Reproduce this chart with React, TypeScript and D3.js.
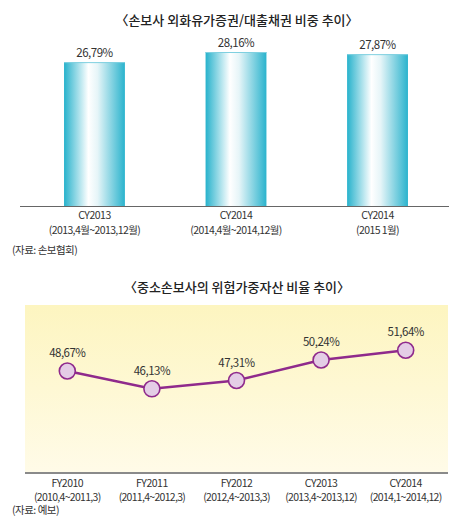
import React from 'react';
import * as d3 from 'd3';

// 상단 막대 차트
const barCats = ['CY2013', 'CY2014', 'CY2014'];
const barSubs = ['(2013,4월~2013,12월)', '(2014,4월~2014,12월)', '(2015 1월)'];
const barValues = [26.79, 28.16, 27.87];

// 하단 꺾은선 차트
const lineCats = ['FY2010', 'FY2011', 'FY2012', 'CY2013', 'CY2014'];
const lineSubs = ['(2010,4~2011,3)', '(2011,4~2012,3)', '(2012,4~2013,3)', '(2013,4~2013,12)', '(2014,1~2014,12)'];
const lineValues = [48.67, 46.13, 47.31, 50.24, 51.64];

const W = 470;
const H = 532;
const FONT = '"Noto Sans CJK KR", "Noto Sans", sans-serif';
const fmt = (v: number) => v.toFixed(2).replace('.', ',') + '%';

const App: React.FC = () => {
  // bar chart scales
  const barX = d3.scaleBand<number>()
    .domain(d3.range(barCats.length))
    .range([23, 449])
    .paddingInner(0.57)
    .paddingOuter(0.29);
  const barBase = 206;
  // axis doesn't start at zero in the original
  const barY = d3.scaleLinear().domain([7.3, 28.16]).range([barBase, 52]);

  // line chart scales
  const plot = { left: 25, right: 448, top: 305, bottom: 473 };
  const lineX = d3.scalePoint<number>()
    .domain(d3.range(lineCats.length))
    .range([plot.left, plot.right])
    .padding(0.5);
  const lineY = d3.scaleLinear().domain([34.1, 58.1]).range([plot.bottom, plot.top]);
  const path = d3.line<number>()
    .x((_, i) => lineX(i)!)
    .y(d => lineY(d))(lineValues);

  return (
    <svg width={W} height={H} style={{ display: 'block', margin: -8, background: '#fff' }} fontFamily={FONT}>
      <defs>
        <linearGradient id="barGrad" x1="0" x2="1" y1="0" y2="0">
          <stop offset="0" stopColor="#27b2cc" />
          <stop offset="0.4" stopColor="#ffffff" />
          <stop offset="0.55" stopColor="#e6f5f8" />
          <stop offset="1" stopColor="#2ab3cd" />
        </linearGradient>
        <linearGradient id="bgGrad" x1="0" x2="0" y1="0" y2="1">
          <stop offset="0" stopColor="#fdf5c0" />
          <stop offset="1" stopColor="#fffbe8" />
        </linearGradient>
      </defs>

      {/* 상단 제목 */}
      <text x={237} y={25} textAnchor="middle" fontSize={13} fontWeight={500} fill="#222">
        〈손보사 외화유가증권/대출채권 비중 추이〉
      </text>

      {barValues.map((v, i) => {
        const x = barX(i)!;
        const bw = barX.bandwidth();
        return (
          <g key={i}>
            <rect x={x} y={barY(v)} width={bw} height={barBase - barY(v)} fill="url(#barGrad)" />
            <line x1={x} x2={x + bw} y1={barY(v) + 0.5} y2={barY(v) + 0.5} stroke="#7fd0e0" strokeWidth={1} />
            <text x={x + bw / 2} y={barY(v) - 5} textAnchor="middle" fontSize={11.5} fill="#333" letterSpacing={-0.5}>
              {fmt(v)}
            </text>
            <text x={x + bw / 2} y={219} textAnchor="middle" fontSize={10.5} fill="#333" letterSpacing={-0.5}>
              {barCats[i]}
            </text>
            <text x={x + bw / 2} y={234} textAnchor="middle" fontSize={10.5} fill="#333" letterSpacing={-0.6}>
              {barSubs[i]}
            </text>
          </g>
        );
      })}
      <line x1={20} x2={449} y1={barBase + 0.5} y2={barBase + 0.5} stroke="#666" strokeWidth={1} />
      <text x={12} y={254} fontSize={10.5} fill="#333" letterSpacing={-0.5}>(자료: 손보협회)</text>

      {/* 하단 제목 */}
      <text x={237} y={292} textAnchor="middle" fontSize={13} fontWeight={500} fill="#222">
        〈중소손보사의 위험가중자산 비율 추이〉
      </text>

      <rect x={plot.left} y={plot.top} width={plot.right - plot.left} height={plot.bottom - plot.top} fill="url(#bgGrad)" />
      <line x1={plot.left} x2={plot.right} y1={plot.bottom} y2={plot.bottom} stroke="#8a8a8a" strokeWidth={2} />

      <path d={path ?? ''} fill="none" stroke="#8f2a8c" strokeWidth={2.5} />
      {lineValues.map((v, i) => (
        <g key={i}>
          <circle cx={lineX(i)} cy={lineY(v)} r={8} fill="#e4cde6" stroke="#8f2a8c" strokeWidth={1.6} />
          <text x={lineX(i)} y={lineY(v) - 14} textAnchor="middle" fontSize={11.5} fill="#333" letterSpacing={-0.5}>
            {fmt(v)}
          </text>
          <text x={lineX(i)} y={487} textAnchor="middle" fontSize={10.5} fill="#333" letterSpacing={-0.5}>
            {lineCats[i]}
          </text>
          <text x={lineX(i)} y={501} textAnchor="middle" fontSize={10.5} fill="#333" letterSpacing={-0.7}>
            {lineSubs[i]}
          </text>
        </g>
      ))}
      <text x={12} y={514} fontSize={10.5} fill="#333" letterSpacing={-0.5}>(자료: 예보)</text>
    </svg>
  );
};

export default App;
